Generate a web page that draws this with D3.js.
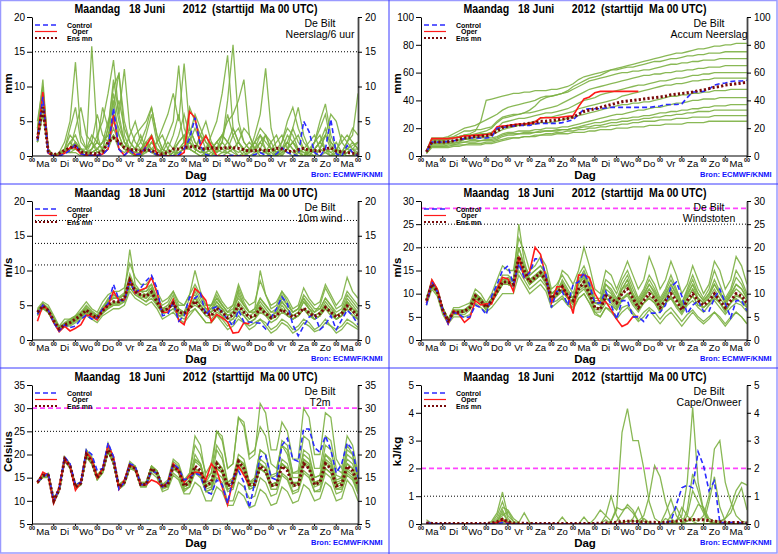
<!DOCTYPE html>
<html>
<head>
<meta charset="utf-8">
<script src="https://cdn.jsdelivr.net/npm/d3@7"></script>
<style>
body { margin: 0; background: #fff; }
svg text { font-family: "Liberation Sans", Arial, sans-serif; }
</style>
</head>
<body>
<div id="chart"></div>
<script>
// time axis: 6-hourly steps from +6h to +360h, 15 days
const stepHours = 6;
const dayLabels = ["Ma","Di","Wo","Do","Vr","Za","Zo","Ma","Di","Wo","Do","Vr","Za","Zo","Ma"];
const titleText = "Maandag   18 Juni      2012  (starttijd  Ma 00 UTC)";
const stationName = "De Bilt";

// ---------- Neerslag/6 uur (mm) ----------
const precipTicks = [0, 5, 10, 15, 20];
const precipControl = [2.2,8.5,0.3,0,0,0.3,0.8,1.7,0.3,0.1,0.1,0.1,0.2,1,6.9,1,0.1,0.8,0.2,0.3,1.3,0.5,0.2,0,0,0,0.2,1,2.5,5.5,1.5,0.2,0,0,0,0,0.1,0,0,0,0.2,0.5,0.1,0,0.3,1.2,0.5,0.2,0,5,3.5,0.5,0,1,5.3,0.3,0,1.5,0.5,0];
const precipOper = [2.3,9.2,0.4,0,0.1,0.4,1.2,1.2,0.3,0.1,0.1,0.1,0.3,1,5.9,1,0.1,0.9,0.2,0.3,1.5,2.8,0.2,0,0,0,0,0.5,6.4,5.5,1.5,2.9,1.5,0,0,0,0,0,0,0];
const precipMean = [2.5,7,0.5,0.2,0.4,0.8,1.2,1.4,0.6,0.4,0.4,0.3,0.6,2,2.6,2,1.2,0.9,0.9,0.7,0.9,0.8,0.4,0.3,0.5,1,1,1.2,1.3,1.4,1.1,1,1.2,1.1,1.1,1.2,1.2,1.1,0.9,0.7,0.8,0.9,0.8,0.8,1.1,1,0.7,0.6,0.9,1.1,0.8,0.8,0.7,1,1.2,0.7,0.6,0.5,0.4,0.3];
const precipMembers = [
  [3,9,0.5,0,0.2,1,4,7,2,1,15.8,3,0.5,2,5,3,1,0.5,0.2,0,1,3,1,0,0,0.5,2,3,1,0.5,0,0.5,1,2,1,0.5,0,0,0.5,1,2,3,1,0,0,0.5,1,2,0.5,0,0,1,2,1,0,0,0.5,1,0.5,0],
  [2,10,1,0,0.5,2,5,13.5,3,1,2,0.5,1,4,8,3,1,0.5,0,0.5,2,1,0,0,1,3,6,2,1,0.5,3,5,2,0.5,1,2,4,2,0.5,0,0,1,3,2,0.5,0,1,4,7,3,1,0.5,0,0.5,1,2,0.5,0,0,0.5],
  [3,8,0.5,0,0,1,2,1,0.5,0,1,3,5,9,13.8,6,12.5,4,2,1,0.5,2,1,0.5,0,0,1,2,4,2,1,0,0,1,2,6,3,1,0,0,0.5,1,0.5,0,0,1,2,1,0,0,0.5,2,5,7.5,3,1,0.5,0,0,0.5],
  [4,11,0.5,0.2,0,0.5,1,2,0.5,0.5,1,2,7,4,10,11.8,5,2,1,3,1,0.5,2,4,6,9,5,13.3,4,2,1,0.5,0,1,3,2,1,0,0,0.5,1,3,2,1,0,0.5,2,4,2,1,0,0,1,0.5,0,0.5,3,2,1,0],
  [2,7,1,0,0,0.5,1,1.5,1,0.5,0.5,1,2,3,6,4,2,1,1,2,4,7,3,1,0.5,0,0.5,1,2,4,2,3,1,0.5,2,8,16,5,2,1,0.5,2,3,1,0.5,0.2,1,2,1,0,0.5,1,2,1,0.5,1,0.5,2,3,9],
  [3,9,0.5,0,0.2,0.5,2,3,1,0.5,1,2,1,2,4,2,1,3,5,2,1,0.5,0,0.5,2,1,3,6,3,1,0.5,1,3,5,9,14.5,4,2,1,0.5,3,6,12.6,4,1,0.5,1,2,3,1,0.5,0,1,3,2,1,0,0.5,1,0.5],
  [2,8,0.5,0,0,0.5,0.5,1,0.5,0,0.5,1,2,5,7,12,3,1,0.5,1,2,1,0.5,1,3,5,13,4,2,1,0.5,0.5,1,2,3,5,6,8,11,3,1,0.5,0.5,1,2,3,1,0.5,0,0,1,2,4,6,2,1,0.5,1,2,1],
  [5,10,1,0,0,1,3,2,1,0.5,2,6,3,2,9,5,2,1,0.5,0.5,3,6,2,0.5,0,0,1,2,7,5,3,1,0.5,0,0.5,1,3,4,2,1,1,2,1,0.5,0,2,5,7,4,2,1,0.5,1,3,6,5,2,1,1.5,2],
  [2,6,0.5,0,0.5,1,0.5,0.5,0,0,0.5,1,2,3,5,8,4,2,1,1,2,3,1,0,0,0.5,1,1.5,2,1,0.5,1,2,1,0.5,0.5,1,2,4,3,1,0,0,0.5,1,2,4,3,1,0.5,0.5,2,3,1,0.5,0,0.5,2,4,3],
  [3,7,0.5,0.2,0,0.5,1,4,7,3,2,1,0.5,1,3,2,1,0.5,0,0,0.5,1,2,3,1,0.5,0.5,1,3,6,4,2,1,0,0,0.5,1,2,1,0.5,2,4,3,1,0.5,1,3,2,1,0.5,0,1,2,3,1,0.5,0,0.5,1,2],
  [2,9,0.5,0,0,0.5,1,1,0.5,0,0,0.5,1,4,11,6,2,0.5,0,0,1,2,1,0.5,0,0,0.5,1,1,0.5,0,0,0.5,1,2,1,0.5,0,0,1,2,1,0.5,0,0.5,1,2,1,0.5,0,0.5,1,2,4,1.5,0.5,0,0.5,1,1],
  [4,8,0.5,0,0.3,1,1,2,1,1,3,2,1,2,3,1,0.5,1,3,4,5,7,3,1,0.5,1,2,3,2,1,3,2,1,2,3,2,1,0.5,1,2,1,0.5,0.5,2,3,1,0.5,0,0.5,1,2,3,1,0.5,0,1,2,3,2,1]
];

// ---------- Accum Neerslag (mm) ----------
const accumTicks = [0, 20, 40, 60, 80, 100];
const accumControl = [3,10,10,10,10.5,11,11.5,12.5,13,13,13,13,13.5,20,20.5,21,21.5,22,22,22,23,23.5,23.5,23.5,23.5,24,25,26,30,33.5,34,34,34,34.5,35,35,35,35,35,35,35,35,35.5,36,37,37,37,37.5,42,46,46,46.5,48,51,52,52.5,53.5,54,54,54.5];
const accumOper = [3,12.5,12.5,12.5,12.5,13,13.5,14.5,14.5,15,15,15.5,16,21,21.5,22,22.5,23,23,23.3,24.5,27.5,27.5,27.5,27.5,28,28.5,29,35.5,41,42.5,45.5,46.5,46.5,46.5,46.5,46.5,46.5,46.5,46.5];
const accumMean = [3,10,10,10,10.3,11,12,13,13.5,14,14.3,14.5,15.5,18,20.5,21.5,22,22.5,23,23.5,24,25,25,25.5,26,26.5,27,28,30,32,33,34,35,36,37,38,39,39.5,40,40.5,41,41.5,42,42.5,43,44,44.5,45,45.5,46,47,47.5,48.5,49.5,50,51,51.5,52,52.5,53];
const accumMembers = [
  [4,13,13,13,14,16,18,20,21,22,24,26,28,30,33,35,36,37,38,39,40,42,43,43,44,45,47,50,52,54,56,57,58,60,62,63,64,65,66,67,68,69,70,71,72,73,74,74,75,76,77,77,78,79,79,80,80,81,81,81],
  [3,11,11,11,12,13,14,15,16,18,25,40,41,42,43,44,45,45,46,46,47,47,47,48,48,49,50,52,55,57,58,59,60,61,62,62,63,64,64,65,66,67,68,68,69,70,70,71,72,72,73,73,74,74,74,75,75,75,75,75],
  [3,10,10,11,12,13,14,15,15,16,17,18,20,24,27,28,29,30,31,33,36,40,42,43,44,45,46,48,50,52,54,55,56,57,58,59,60,60,61,61,62,62,63,64,65,66,66,67,67,68,68,69,69,69,70,70,70,70,70,70],
  [4,12,12,12,13,14,16,18,18,19,19,20,21,25,28,29,30,30,31,31,32,33,34,35,36,38,40,42,44,46,48,49,50,51,52,53,54,55,56,57,58,58,59,59,60,60,61,61,62,62,63,63,64,64,64,65,65,65,65,65],
  [3,9,9,9,10,11,12,13,13,14,15,16,17,20,24,25,26,27,27,28,29,30,31,31,32,33,34,36,38,40,41,42,44,45,46,47,48,49,50,51,51,52,53,54,54,55,56,56,57,58,58,59,59,60,60,60,60,60,60,60],
  [2,8,8,8,9,9,10,12,13,13,14,14,15,17,19,20,21,22,23,24,25,27,28,28,29,30,31,32,34,35,36,37,38,39,40,41,43,44,45,46,47,48,49,50,51,51,52,52,53,54,54,55,55,56,56,56,56,56,56,56],
  [4,12,12,12,12,13,14,15,15,15,16,16,17,19,21,21,22,22,22,23,23,24,24,24,25,26,27,28,29,30,31,32,33,34,35,36,37,37,38,38,39,39,40,41,42,43,43,44,44,45,45,46,46,47,47,47,48,48,48,48],
  [3,10,10,10,10,11,11,12,12,12,13,13,13,14,16,17,17,18,18,18,19,19,20,20,20,21,21,22,23,24,25,26,27,28,29,30,30,31,32,33,33,34,35,35,36,37,38,38,39,40,40,41,41,41,42,42,42,42,42,42],
  [2,7,7,7,8,8,9,10,10,10,11,11,11,12,14,15,15,16,16,16,17,17,18,18,18,19,19,20,21,22,23,24,24,25,26,26,27,27,28,28,29,29,30,31,31,32,32,33,33,34,34,35,35,36,36,36,37,37,37,37],
  [3,9,9,9,9,10,10,10,11,11,11,12,12,13,15,16,16,16,17,17,17,18,18,18,19,19,19,20,20,21,21,22,22,23,24,24,25,25,26,26,27,27,28,28,29,29,30,30,31,31,32,32,32,33,33,33,33,33,33,33],
  [2,6,6,6,6,7,7,8,8,8,8,9,9,10,11,12,13,13,14,14,15,15,16,16,17,17,18,18,19,19,20,20,21,21,22,22,23,23,24,24,25,25,25,26,26,26,27,27,27,28,28,28,28,29,29,29,29,29,29,29],
  [2,7,7,7,7,8,8,8,9,9,9,10,10,11,12,13,13,13,14,14,14,15,15,15,16,16,16,17,17,17,18,18,19,19,19,20,20,20,21,21,21,22,22,22,23,23,23,23,24,24,24,24,25,25,25,25,25,25,25,25]
];

// ---------- 10m wind (m/s) ----------
const windTicks = [0, 5, 10, 15, 20];
const windControl = [3.7,5,4.3,2.5,1.3,2.2,1.8,2,3,3.6,3,3.2,4.5,5.2,8,5.8,5.6,8.5,6.7,7.5,8.5,9.3,7.5,3.5,3.7,5.4,2.7,3.5,6.2,6,6.7,3.6,4.5,4.8,4,3,2,4.3,2.6,2.6,2.5,2.4,1.6,3.2,4.5,6.2,5.2,2.2,0.6,2,3.3,3.8,1.5,2.2,3.5,1.5,2.9,4.3,3.5,2.2];
const windOper = [2.7,5,4.3,2.5,1.2,2,1.3,1.7,2.2,3.6,3.4,2.9,4.4,5,7,5.7,5.8,8.8,6.7,7.2,7.5,9,6.8,4,4,5.8,2.8,2.2,5,7.4,6.7,5.7,2.6,3.7,3.2,2.6,1,1.1,2.5,2.3];
const windMean = [4,4.9,4.2,2.8,1.6,2.2,2.5,3,3.6,4.3,3.6,3.2,4.2,5,5.5,5.5,6,8.6,7,6.5,6.3,6.9,5.5,4.2,4.5,5.3,4,3.8,4.5,5.6,4.7,3.8,3.5,4.6,4,3.2,3.6,5,4,3.3,3.5,4.5,3.8,3.2,3.5,4.4,3.8,3.3,3.7,4.6,3.9,3.4,3.8,4.7,4,3.3,3.8,4.9,4.2,3.5];
const windMembers = [
  [4.5,5.5,5,3.5,2,3,3,3.5,4.5,5.5,4.5,4,5.5,6.5,7,7,7.5,11,9,8,8,9,7,5.5,6,7,5,5,6.5,8,6.5,5,5,7,5.5,4.5,5,8,6,5,5.5,8.5,6.5,5,5.5,7,6,4.5,5,7.5,6,5,5.5,8,6.5,5,6,9,7,6],
  [3.5,4.5,4,2.5,1.2,2,2,2.5,3,3.5,3,2.5,3.5,4,4.5,4.5,5,7,6,5.5,5,5.5,4.5,3,3.5,4,3,2.5,3.5,4.5,3.5,2.5,2.5,3.5,3,2,2.5,3.5,2.5,2,2.5,3,2.5,1.5,2,3,2.5,1.5,2,3,2.5,1.5,2,3,2,1.5,2,3,2.5,1.8],
  [4,5,4,3,1.8,2.5,3,3.5,4,4.5,4,3.5,4.5,6,6.5,6,6.5,9,7.5,7,7.5,8,6,4.5,5,6.5,4.5,4,5,6,5,4,4,5.5,4.5,3.5,4,6.5,5,4,4,5.5,4.5,3.5,4,6,5,4,4.5,6,4.5,3.5,4,5,4,3,3.5,5,4,3],
  [3.8,4.8,4.3,2.7,1.4,2,2.3,2.8,3.4,4,3.5,3,4,4.8,5.2,5.5,6,8,7,6.5,6,7,5.5,4,4.5,5.5,4,3.5,5,7.5,6,4.5,4,5,4,3,3,4,3.5,2.5,3,4.5,4,3,3.5,5,4,3,3.5,4.5,4,3,3.5,5,4,3,3.5,5.5,4.5,3.5],
  [4.2,5.2,4.5,3,1.7,2.3,2.6,3.2,4,4.6,3.8,3.5,4.5,5.5,6,6,6.5,9.5,7.5,6.5,6.5,7.5,6,4.5,4.5,5.5,4,3.5,5,6,5,4,4,5,4.5,3.5,4,7.5,5.5,4,4.5,6,5,4,4,5.5,4.5,3.5,4,5.5,4.5,4,4.5,6,5,3.5,4,5.5,4.5,4],
  [3.6,4.6,4,2.6,1.5,2.1,2.4,3,3.5,4.2,3.5,3.1,4,4.5,5,5.2,5.5,7.5,6.5,6,5.5,6.5,5,3.8,4,4.5,3.5,3.5,4.5,5,4.5,4,4.5,6,5,4,4,5,4,3,3.5,4.5,3.5,3,3.5,4.5,3.5,3,3.5,4.5,3.5,3,3.5,4.5,3.5,3,3.5,4.5,3.5,3],
  [4.1,5,4.3,2.9,1.6,2.2,2.6,3.1,3.7,4.4,3.7,3.3,4.4,5.4,6.2,6,6.5,8.8,7.2,7,7,7.5,5.5,4,4.5,5,3.5,3.5,4.5,5.5,4.5,3.5,3,4,3.5,2.5,3,4.5,3.5,2.5,3,4,3.5,2.5,3,4,3.5,3,3.5,4.5,4,3,3.5,5,4,3.5,4,6,5,4],
  [4,5.2,4.5,3.2,1.9,2.4,2.7,3.3,4,5,4.2,3.6,4.8,5.8,6.5,6.2,6.8,13,8,7,6.5,7,6,5,5.5,7,5.5,5,6.5,10,7,5,5,6.5,5,4,4.5,6,5,4,4.5,10,6.5,4.5,5,7,5.5,4,4.5,6,5,4,5,7.5,6,4.5,5,7,6,5],
  [3.9,4.7,4,2.6,1.3,1.9,2.2,2.7,3.2,3.8,3.3,2.9,3.8,4.5,5,5,5.5,7.5,6.5,6,5.5,6,5,3.8,4,4.5,3.5,3,4,4.5,3.5,2.5,2.5,3.5,2.5,1.5,2,3,2.5,1.5,2,3,2,1,1.5,2.5,2,1,1.5,2.5,2,1.2,1.5,2.5,2,1,1.5,2.5,2,1.5],
  [4.3,5.3,4.6,3.1,1.8,2.4,2.8,3.4,3.8,4.8,4,3.4,4.6,5.6,6,6,6.5,9,7.5,7,7,8,6,4.5,5,5.5,4,4,6,6.5,5,4,5,6,5,4,5,7,5,4,4,6,5,4,4.5,6.5,5,4,4.5,6.5,5.5,4.5,4.5,6,5,4,4.5,6.5,5.5,4.5],
  [3.7,4.6,3.9,2.5,1.4,2,2.3,2.8,3.3,4,3.4,3,3.9,4.7,5.3,5.3,5.8,8.2,6.8,6.2,6,6.8,5.2,4,4.5,5,3.8,3.8,5,5.5,4.5,3.5,3.5,4.5,3.5,3,3.5,5,4,3,3.5,5,4,3,3.5,4.5,3.5,3,3.5,4.5,3.5,3,3.5,4.5,4,3,3.5,4.5,3.5,3],
  [4,4.9,4.2,2.8,1.6,2.2,2.5,3,3.6,4.3,3.6,3.2,4.2,5,5.5,5.5,6,8.6,7,6.5,6.3,6.9,5.5,4.2,4.5,6,4.5,4,5,7,5.5,4.5,4.5,5.5,4.5,3.5,4,5.5,4.5,3.5,4,5,4,3.5,4,5.5,4.5,3.5,4,5.5,4.5,3.5,4,5.5,4.5,3.5,4,5.5,4.5,3.5]
];

// ---------- Windstoten (m/s) ----------
const gustTicks = [0, 5, 10, 15, 20, 25, 30];
const gustControl = [7.5,12.5,10.5,6.5,3.5,6,5.5,4.8,5,7.5,7,5.5,9.5,12,15,16,12,16.5,13.5,14.5,17.5,17.5,14,7,10.5,10.5,7.5,12,12.5,14.5,12,8,8,10.5,7.5,4.5,8.5,8.5,5,5,4,5.8,5.8,6,7.5,11.5,12.5,9.5,5.7,7.5,8.5,6.2,6.2,9,11,8,4.8,8.5,8.5,6.3];
const gustOper = [8,13,11,6.5,3.5,6.3,5.5,3.8,4.8,8.5,7.6,7.8,7.8,11,13.5,13.2,10.5,18,13.5,14.8,20,18.5,13.5,8,11.5,11.5,9.5,5.7,14,14,13.5,10,8,8.3,6.5,4.5,2.9,3.5,5,5.1];
const gustMean = [8.5,12,10.5,6.5,4.2,6,6,6.2,7,9.5,8.5,7,8.5,10.5,12.5,12.5,12,18,15,12.5,13.5,14.5,13,9,10,11.5,9.5,8.5,11,12.5,10,7,6.6,9.5,9,8,10,11,9,7,8.5,10,9,7,8.5,10,8.5,6.5,8.5,10,8.5,7.5,8.5,10,8.5,7,8.5,10,9.5,8];
const gustMembers = [
  [9,13,11,7,4.5,7,7,7.5,8,11,10,8,10,13,16,15,15,22,19,15,16,18,16,11,12,14,12,10,14,16,13,9,9,13,12,10,13,15,12,9,11,14,12,9,11,14,11,8,11,14,11,9,11,15,12,9,11,15,13,10],
  [7.5,11,9.5,5.5,3.5,5,5,5,5.5,8,7,6,7,8.5,10,10,10,14,12,10,11,12,10.5,7,8,9,7.5,6.5,9,10,8,5.5,5,7,6.5,5,7,7.5,6,4.5,6,7,6,4.5,6,7,5.5,4,5.5,6.5,5,4,5,6,5,3.5,5,6,5,3.5],
  [8.5,12.5,11,6.5,4,6.5,6,6,7,9.5,8.5,7,8.5,11,13,13,12.5,25,17,13,14,15,13.5,9,10,11,9,8.5,11,13,10,7,7,10,9,7.5,10,12,9,7,9,11,9,7,9,11,9,6.5,9,11,8.5,7,8,10,8,6,8,10,9,7],
  [8,12,10,6.5,4,6,6,6,7,10,9,7.5,9,11,13,13,13,18,16,14,15,16,14,10,11,12,10,9,12,14,11,8,8,11,10,8,11,13,10,8,10,12,10,8,10,12,9.5,7.5,10,12,9,8,9.5,12,10,8,10,12,11,9],
  [9,12.5,10.5,7,4.5,6.5,6.5,6.5,7.5,10,9,7.5,8.5,10,12,12,11.5,17,14,12,13,14,12,8.5,9.5,11,9,8,11,12,9.5,7,7,9,8,6.5,8.5,10,8,6.5,8,9,8,6,8,9,7.5,6,8,9.5,7.5,7,8,9,8,6.5,8,9,8,7],
  [8.2,11.5,10,6.2,3.8,5.5,5.5,5.5,6.5,9,8,6.5,8,10,12,12,11.5,16,14,12,13,14,12.5,8.5,9.5,10.5,9,7.5,10,11,9,6,6,8,7.5,6.5,9,9.5,7.5,6,8,9,8,6,8,9,7,5.5,7.5,8.5,7,6,7.5,8.5,7,5.5,7,8,7.5,6],
  [8.8,12.2,10.8,6.8,4.4,6.2,6.2,6.4,7.2,9.8,8.8,7.2,8.8,11,13,13.5,13,20,16,13,14,15,14,10,10.5,12,10,9,12,13.5,11,8,7.5,10,9.5,8,11,12,9.5,7.5,9.5,11,9.5,7.5,9,11,9,7,9,11,9,8,9,11,9,7.5,9.5,11,10,8.5],
  [8.5,12,10.5,6.5,4.2,6,6,6.2,7,9.5,8.5,7,8.5,10.5,12.5,12.5,12,18,15,12.5,13.5,14.5,13,9,11,15,14,12,15,20,16,11,10,15,14,11,14,17,14,11,13,18,15,11,13,17,14,10,12,16,13,10,12,17,15,11,13,18,16,12],
  [8,11.5,10,6,4,5.8,5.8,6,6.8,9,8,6.5,8,10,12,12,11.5,15,13,11,12,13,11.5,8,8.5,9.5,8,7,9,10,8,6,5,7,6,4.5,6,7,5.5,4,5,6.5,5,3.5,5,6,4.5,3,4.5,6,4.5,3.5,4.5,6,4.5,3,4.5,6,5,3.5],
  [8.6,12.2,10.6,6.6,4.3,6.1,6.1,6.3,7.1,9.6,8.6,7.1,8.6,10.6,12.6,12.6,12.1,18,15,12.6,13.6,14.6,13.1,9.1,10,13,11,9,13,15,12,8,8,12,11,9,11,13,10,8,9.5,12,10.5,8,9.5,12,10,7.5,9.5,12,10,8.5,10,12,10,8,9.5,12,11,9],
  [8.4,11.8,10.4,6.4,4.1,5.9,5.9,6.1,6.9,9.4,8.4,6.9,8.4,10.4,12.4,12.4,11.9,17,14.5,12,13,14,12.5,8.5,9.5,10.5,9,8,10.5,11.5,9.5,6.5,6.5,9,8.5,7,9,10,8.5,6.5,8,9.5,8.5,6.5,8,9.5,7.5,6,8,9.5,7.5,7,8,9.5,8,6.5,8,9.5,9,7.5],
  [8.7,12.4,10.9,6.9,4.4,6.4,6.4,6.6,7.4,10,9,7.4,9,11.5,14,14,13,20,16,14,15,16,14.5,10,11,12.5,10.5,9,12.5,14.5,11.5,8.5,8.5,12,10.5,8.5,12,14,11,8.5,10.5,13,11,8.5,10.5,13,10.5,8,10.5,13,10,8.5,10,13,10.5,8.5,10.5,13.5,12,9.5]
];

// ---------- T2m (Celsius) ----------
const tempTicks = [5, 10, 15, 20, 25, 30, 35];
const tempControl = [14.2,15,16,10,12.5,19.5,18,13.5,14,21,20,16.5,17,22.5,19.5,12.5,14,18,17.5,13.5,13.5,16.5,16,13,14,18,17,14.5,15,16,15.5,12,11.5,14.5,13.5,9.5,15,16.5,14,8.5,14,19.5,19.8,15,14.5,22,23.5,19,18.5,25.5,25.5,21.5,20.5,24,21,16,18,22.5,21,15];
const tempOper = [13.8,16.2,15.5,9.5,13,19,17.5,12.3,14,20.5,19,15,17,22,19.5,12.5,14.5,18,17,13.5,13.5,14.5,14,13,14,18,16.5,14,15.5,16.2,16,14.5,18,16.5,13,9.2,14.5,17.5,15.5,13.5];
const tempMean = [14,15.5,15.5,10,12.5,19,17.5,13,13.8,20,18.5,15,16.5,21,18.5,13,14,17.5,17,13.5,13.5,17,16,13,13.5,17.5,16.5,13.2,14,17.5,16.5,13.2,14,18,16.5,13.2,14,18.5,17,13.5,13.5,17.5,16.5,13.3,13.5,17.5,16.5,13.3,13.5,18,17,13.5,14,18,17,13.2,13.5,17.5,16.5,13.5];
const tempMembers = [
  [14.2,15.5,16,10.5,12.5,19.5,18,13.5,14,21,19.5,15.5,17,22.5,19.5,13.5,14.5,18.5,17.5,14,14,17.5,16.5,13.5,14.5,19,18,14.5,16,22,20,16,18,25,23,17,18,28,26,19,20,31,29,21,21,27,25,19,19,30,28,20,20,29,28,19,17,24,22,16],
  [13.8,15,15,9.5,12,18.5,17,12.5,13.5,19.5,18,14.5,16,20.5,18,12.5,13.5,17,16.5,13,13,16,15,12,12.5,15.5,14.5,11.5,11.5,14,13,10,10,13,12,9,9,12,11,8.5,9,12.5,11.5,9,9.5,13,12,9.5,10,13.5,12.5,10,10.5,14,13,10,10.5,14.5,13,10],
  [14,15.5,15.5,10,12.5,19,17.5,13,14,20,18.5,15,16.5,21,18.5,13,14,17.5,17,13.5,13.5,17,16,13,13.5,18,17,14,16,24,22,15,16,22,20,14,15,20,19,14,14.5,19,18,13.5,14,18,17,13,13.5,19,18,14,14.5,20,18.5,14,14.5,22,20,15],
  [14.1,15.7,15.8,10.2,12.7,19.3,17.7,13.2,14,20.5,19,15.2,16.8,21.5,18.7,13.2,14.2,18,17.2,13.7,13.7,17.5,16.3,13.2,13.7,17,16,12.5,13,16,15,12,12.5,16,15,12,12.5,17,16,12.5,13,17,16,13,13.5,18,17,13.5,14,19,18,14,14.5,19,18,13.5,14,18,17,13.5],
  [13.9,15.3,15.3,9.8,12.3,18.8,17.3,12.8,13.6,19.7,18.2,14.8,16.2,20.7,18.3,12.8,13.8,17.3,16.8,13.3,13.3,16.8,15.8,12.8,13.3,17.5,16.5,13,14,19,18,13,14,21,19,14,14.5,19,18,13,13.5,17,16,12.5,12.5,16,15,12,12.5,16.5,15.5,12,12.5,17,16,12.5,13,16.5,15.5,12.5],
  [14.3,15.8,15.7,10.3,12.8,19.5,17.8,13.3,14.2,21,19.2,15.5,17,22,19,13.5,14.3,18,17.5,14,14,17.5,16.5,13.5,14,18.5,17.5,14,15,20,18,14,14.5,18.5,17,13.5,14,19,17.5,13.5,14.5,21,20,15,15.5,22,20,15,15,21,20,15,15.5,22,21,15.5,15,19,18,14],
  [13.7,15.2,15.2,9.7,12.2,18.7,17.2,12.7,13.4,19.4,18,14.5,16,20.5,18,12.5,13.5,17,16.5,13,13,16.5,15.5,12.5,13,17,16,12.5,13,16.5,15.5,12.5,13,17,16,12.5,13,17.5,16,12.5,13,18,17,13.5,14,19,18,14,14,18,17,13,13.5,17,16,12.5,12.5,15.5,14.5,11.5],
  [14,15.6,15.6,10.1,12.6,19.1,17.6,13.1,13.9,20.1,18.6,15.1,16.6,21.1,18.6,13.1,14.1,17.6,17.1,13.6,13.6,17.1,16.1,13.1,13.6,17.6,16.6,13.3,14.5,19,18,14,16,25,24,17,18,28,27,20,21,26,24,18,17,22,21,16,16,20,19,15,15.5,20,19,14.5,15,20,19,15],
  [14.1,15.4,15.4,9.9,12.4,18.9,17.4,12.9,13.7,19.9,18.4,14.9,16.4,20.9,18.4,12.9,13.9,17.4,16.9,13.4,13.4,16.9,15.9,12.9,13.4,17.4,16.4,13.1,13.5,17,16,12,11.5,15,14,10,10,14,13,10.5,11,15,14,11,11.5,15.5,14.5,11.5,12,16,15,12,12,16,15,11.5,12,16,15,12],
  [14.2,15.6,15.6,10.1,12.6,19,17.6,13.1,13.9,20,18.5,15,16.6,21,18.6,13.1,14,17.6,17.1,13.6,13.6,17.5,16.4,13.4,14,18,17,13.5,14.5,18.5,17.5,13.5,14,18.5,17,13.5,14,18,16.5,13,13.5,17,16,13,13.5,18,17,13.5,14,18.5,17.5,13.5,14,18.5,17.5,13.5,14,18,17,13.5],
  [13.9,15.5,15.5,10,12.5,19,17.5,13,13.8,20,18.5,15,16.5,21,18.5,13,14,17.5,17,13.5,13.5,17,16,13,13,16,15,12,13,17,16,12,12.5,17,16,12.5,13,19,18,14,15,21,20,15.5,16,23,22,16,16.5,24,23,17,17,24,23,17,16,21,20,15],
  [14,15.4,15.4,9.9,12.4,19,17.4,13,13.7,20,18.4,15,16.4,21,18.4,13,13.9,17.4,16.9,13.4,13.4,16.9,15.9,12.9,13.4,17,16,13,13.5,17,16,13,13.5,17.5,16.5,13,13.5,18,17,13.5,14,18,17,13.5,14,18,17,13.5,14,18,17,13.5,14,18,17,13,13.5,17,16,13]
];

// ---------- Cape/Onweer (kJ/kg) ----------
const capeTicks = [0, 1, 2, 3, 4, 5];
const capeControl = [0.05,0.02,0.01,0,0,0,0,0,0,0,0,0,0.01,0.02,0.05,0.02,0,0,0,0,0,0,0,0,0,0,0,0,0,0,0,0,0,0,0,0,0,0,0,0,0,0,0,0,0.05,0.1,0.7,1.3,1.4,1.3,2.6,2.1,1.2,1.55,0.05,0.05,0.05,0.08,0.03,0.02];
const capeOper = [0.03,0.01,0,0,0,0,0,0,0,0,0,0,0.02,0.05,0.15,0.04,0.01,0,0,0,0,0,0,0,0,0,0,0,0,0,0,0,0,0,0,0,0,0,0,0];
const capeMean = [0.04,0.02,0.02,0.02,0.02,0.02,0.02,0.02,0.02,0.02,0.02,0.02,0.03,0.08,0.17,0.08,0.03,0.03,0.03,0.02,0.02,0.02,0.02,0.02,0.02,0.02,0.02,0.02,0.02,0.02,0.02,0.02,0.03,0.04,0.05,0.06,0.09,0.1,0.1,0.09,0.07,0.06,0.06,0.05,0.06,0.08,0.1,0.12,0.15,0.16,0.15,0.15,0.12,0.1,0.08,0.06,0.05,0.05,0.05,0.04];
const capeMembers = [
  [0.02,0,0,0,0,0,0,0,0,0,0,0,0,0.05,0.1,0.05,0,0,0,0,0,0,0,0,0,0,0,0,0,0,0,0,0,0,0.1,0.5,3.3,4.15,3,3,2,0.8,0.2,0.05,0,0,0,0,0,0,0,0,0,0,0,0,0,0,0,0],
  [0.03,0,0,0,0,0,0,0,0,0,0,0,0,0.02,0.05,0.02,0,0,0,0,0,0,0,0,0,0,0,0,0,0,0,0,0,0,0,0,0,0,0,0,0,0,0,0,0,0.05,0.1,0.3,1.5,4.2,1.5,0.5,0.1,0.05,0,0,0,0,0,0],
  [0.05,0,0,0,0,0,0,0,0,0,0,0,0.02,0.1,0.2,0.05,0,0,0,0,0,0,0,0,0,0,0,0,0,0,0,0,0,0,0,0,0.05,0.1,0.1,0.1,0.3,1,2.1,1.7,0.8,0.2,0.05,0,0,0,0,0,0,0,0,0,0,0,0,0],
  [0.02,0,0,0,0,0,0,0,0,0,0,0,0,0.05,0.15,0.05,0,0,0,0,0,0,0,0,0,0,0,0,0,0,0,0,0,0,0,0,0,0,0,0,0,0,0,0,0,0,0,0,0.1,0.2,0.1,0.3,1,2.7,3,1.5,0.8,0.3,0.1,0.05],
  [0.04,0,0,0,0,0,0,0,0,0,0,0,0,0.03,0.1,0.03,0,0,0,0,0,0,0,0,0,0,0,0,0,0,0,0,0,0,0,0,0,0,0,0,0,0,0,0,0,0,0,0,0,0,0,0,0,0,0.05,0.2,0.6,1.2,1.5,1.4],
  [0.03,0,0,0,0,0,0,0,0,0,0,0,0.1,0.4,1.15,0.3,0.1,0,0,0,0,0,0,0,0,0,0,0,0,0,0,0,0,0,0,0,0,0,0,0,0,0,0,0,0,0,0,0,0,0,0,0,0,0,0,0,0,0,0,0],
  [0.02,0,0,0,0,0,0,0,0,0,0,0,0,0.2,0.6,0.5,0.2,0.05,0.4,0.05,0,0,0,0,0,0,0,0,0,0,0,0,0,0.3,1,0.3,0,0,0,0,0,0,0,0,0,0,0,0,0,0,0,0,0,0,0,0,0,0,0,0],
  [0.03,0,0,0,0,0,0,0,0,0,0,0,0,0.05,0.2,0.05,0,0,0,0,0,0,0,0,0,0,0,0,0,0,0,0.2,0.5,0.3,0.1,0.6,0.5,0.6,0.4,0.1,0,0,0,0,0,0,0,0,0.5,1.8,1.2,0.5,0.1,0,0,0,0,0,0,0],
  [0.02,0,0,0,0,0,0,0,0,0,0,0,0,0.1,0.4,0.1,0,0,0,0,0,0,0,0,0,0.25,0,0,0,0.25,0,0,0,0,0,0,0,0,0,0,0,0,0,0,0.4,0.9,0.3,0.05,0,0,0,0,0.8,1.7,0.6,0.1,0,0,0,0],
  [0.03,0,0,0,0,0,0,0,0,0,0,0,0,0.1,0.3,0.45,0.1,0,0,0,0,0,0,0,0,0,0,0,0,0,0,0,0,0,0,0.1,0.4,0.7,0.5,0.1,0,0,0,0,0,0,0.1,0.6,0.3,1.2,0.8,0.4,0.1,0,0,0,0,0,0,0],
  [0.15,0.02,0,0,0,0,0,0,0,0,0,0,0,0.1,0.5,0.1,0,0,0,0,0,0,0,0,0,0,0,0,0,0,0,0,0,0,0,0,0,0,0,0,0.2,0.05,0,0,0,0.3,0.6,0.2,0.1,0.3,0.7,0.6,0.2,0.1,0.1,0.2,0.4,0.9,1.3,0.5],
  [0.02,0,0,0,0,0,0,0,0,0,0,0,0.05,0.3,0.8,0.2,0,0,0,0,0,0,0,0,0,0,0,0,0,0,0,0,0,0.15,0,0,0,0,0.2,0.6,0.1,0,0,0,0.2,0.1,0,0,0.3,0.1,0,0,0,0,0,0,0,0,0,0]
];

// ---------- layout ----------
const W = 778, H = 554;
const panelW = 389, panelH = 184;
const plot = {left: 32, right: 358, top: 17, bottom: 156};
const green = "#7cb042";

const svg = d3.select("#chart").append("svg")
    .attr("width", W)
    .attr("height", H);

svg.append("rect").attr("width", W).attr("height", H).attr("fill", "#fff");

const x = d3.scaleLinear().domain([0, 360]).range([plot.left, plot.right]);
const hourOf = i => stepHours * (i + 1);
const tickFmt = d3.format("d");

function drawPanel(cfg, idx) {
  const g = svg.append("g").attr("transform", `translate(${cfg.dx},${cfg.dy})`);
  const y = d3.scaleLinear().domain(cfg.domain).range([plot.bottom, plot.top]);

  // clip to the plot area
  const clipId = "clip" + idx;
  g.append("clipPath").attr("id", clipId)
    .append("rect")
      .attr("x", plot.left).attr("y", plot.top - 1)
      .attr("width", plot.right - plot.left).attr("height", plot.bottom - plot.top + 1);

  // title
  g.append("text")
      .attr("x", 196).attr("y", 12.5)
      .attr("text-anchor", "middle")
      .attr("font-size", 12.5).attr("font-weight", "bold")
      .attr("textLength", 243).attr("lengthAdjust", "spacingAndGlyphs")
      .style("white-space", "pre")
      .text(titleText);

  const line = d3.line()
      .x((d, i) => x(hourOf(i)))
      .y(d => y(d));

  const body = g.append("g").attr("clip-path", `url(#${clipId})`);

  // reference lines
  cfg.refs.forEach(r => {
    body.append("line")
        .attr("x1", plot.left).attr("x2", plot.right)
        .attr("y1", y(r.v)).attr("y2", y(r.v))
        .attr("stroke", r.magenta ? "#ff44ff" : "#000")
        .attr("stroke-width", r.magenta ? 1.6 : 1)
        .attr("stroke-dasharray", r.magenta ? "5,3" : "1,2");
  });

  // ensemble members
  body.selectAll("path.member")
    .data(cfg.members)
    .join("path")
      .attr("class", "member")
      .attr("d", line)
      .attr("fill", "none")
      .attr("stroke", green)
      .attr("stroke-width", 1.3)
      .attr("opacity", 0.9);

  body.append("path").attr("d", line(cfg.oper))
      .attr("fill", "none").attr("stroke", "#ff1a1a").attr("stroke-width", 1.6);
  body.append("path").attr("d", line(cfg.control))
      .attr("fill", "none").attr("stroke", "#2a2aff").attr("stroke-width", 1.6)
      .attr("stroke-dasharray", "5,3");
  body.append("path").attr("d", line(cfg.mean))
      .attr("fill", "none").attr("stroke", "#7a0a0a").attr("stroke-width", 3)
      .attr("stroke-dasharray", "2.2,2.2");

  // left axis
  const yl = g.append("g")
      .attr("transform", `translate(${plot.left},0)`)
      .call(d3.axisLeft(y).tickValues(cfg.ticks).tickFormat(tickFmt)
        .tickSize(5).tickPadding(2).tickSizeOuter(0));
  yl.select(".domain").attr("stroke", "#000");
  yl.selectAll("text").attr("font-size", 10).attr("fill", "#000")
      .style("font-family", "Liberation Sans, Arial, sans-serif");

  // right axis
  const yr = g.append("g")
      .attr("transform", `translate(${plot.right},0)`)
      .call(d3.axisRight(y).tickValues(cfg.ticks).tickFormat(tickFmt)
        .tickSize(4).tickPadding(3).tickSizeOuter(0));
  yr.select(".domain").attr("stroke", "#444").attr("stroke-width", 1.8);
  yr.selectAll("text").attr("font-size", 10).attr("fill", "#000")
      .style("font-family", "Liberation Sans, Arial, sans-serif");

  // bottom axis with 00 marks at midnight and day names at noon
  g.append("line")
      .attr("x1", plot.left).attr("x2", plot.right)
      .attr("y1", plot.bottom).attr("y2", plot.bottom)
      .attr("stroke", "#000");
  const mids = d3.range(dayLabels.length + 1).map(d => d * 24);
  g.selectAll("line.midtick").data(mids).join("line")
      .attr("class", "midtick")
      .attr("x1", d => x(d)).attr("x2", d => x(d))
      .attr("y1", plot.bottom).attr("y2", plot.bottom + 2)
      .attr("stroke", "#000");
  g.selectAll("text.mid").data(mids).join("text")
      .attr("class", "mid")
      .attr("x", d => x(d)).attr("y", plot.bottom + 5.5)
      .attr("text-anchor", "middle")
      .attr("font-size", 5.5).attr("font-weight", "bold")
      .text("00");
  g.selectAll("text.day").data(dayLabels).join("text")
      .attr("class", "day")
      .attr("x", (d, i) => x(i * 24 + 12)).attr("y", plot.bottom + 10.5)
      .attr("text-anchor", "middle")
      .attr("font-size", 9.5)
      .text(d => d);

  // axis titles
  g.append("text")
      .attr("x", 196).attr("y", 178.5)
      .attr("text-anchor", "middle")
      .attr("font-size", 11.5).attr("font-weight", "bold")
      .text("Dag");
  g.append("text")
      .attr("transform", `translate(12,${(plot.top + plot.bottom) / 2 - 3}) rotate(-90)`)
      .attr("text-anchor", "middle")
      .attr("font-size", 11.5).attr("font-weight", "bold")
      .text(cfg.unit);
  g.append("text")
      .attr("x", 311).attr("y", 177)
      .attr("font-size", 7.5).attr("font-weight", "bold")
      .attr("fill", "#1010ff")
      .text("Bron: ECMWF/KNMI");

  // station and parameter
  g.append("text")
      .attr("x", 320).attr("y", 27)
      .attr("text-anchor", "middle").attr("font-size", 10.5)
      .text(stationName);
  g.append("text")
      .attr("x", 320).attr("y", 38)
      .attr("text-anchor", "middle").attr("font-size", 10.5)
      .text(cfg.param);

  // legend
  const legend = [
    {label: "Control", dx: 67, color: "#2a2aff", w: 1.6, dash: "5,3"},
    {label: "Oper", dx: 72, color: "#ff1a1a", w: 1.2, dash: null},
    {label: "Ens mn", dx: 67, color: "#7a0a0a", w: 2.2, dash: "2,2"}
  ];
  legend.forEach((l, i) => {
    const ly = 25 + i * 6.5;
    g.append("line")
        .attr("x1", 35).attr("x2", 57).attr("y1", ly).attr("y2", ly)
        .attr("stroke", l.color).attr("stroke-width", l.w)
        .attr("stroke-dasharray", l.dash);
    g.append("text")
        .attr("x", l.dx).attr("y", ly + 2.5)
        .attr("font-size", 7).attr("font-weight", "bold")
        .text(l.label);
  });
}

const panels = [
  {dx: 0, dy: 0, domain: [0, 20], ticks: precipTicks, unit: "mm", param: "Neerslag/6 uur",
   members: precipMembers, control: precipControl, oper: precipOper, mean: precipMean,
   refs: [{v: 15}]},
  {dx: panelW, dy: 0, domain: [0, 100], ticks: accumTicks, unit: "mm", param: "Accum Neerslag",
   members: accumMembers, control: accumControl, oper: accumOper, mean: accumMean,
   refs: []},
  {dx: 0, dy: panelH, domain: [0, 20], ticks: windTicks, unit: "m/s", param: "10m wind",
   members: windMembers, control: windControl, oper: windOper, mean: windMean,
   refs: [{v: 10.8}, {v: 13.9}, {v: 17.2}]},
  {dx: panelW, dy: panelH, domain: [0, 30], ticks: gustTicks, unit: "m/s", param: "Windstoten",
   members: gustMembers, control: gustControl, oper: gustOper, mean: gustMean,
   refs: [{v: 20}, {v: 25}, {v: 28.4, magenta: true}]},
  {dx: 0, dy: panelH * 2, domain: [5, 35], ticks: tempTicks, unit: "Celsius", param: "T2m",
   members: tempMembers, control: tempControl, oper: tempOper, mean: tempMean,
   refs: [{v: 25}, {v: 30, magenta: true}]},
  {dx: panelW, dy: panelH * 2, domain: [0, 5], ticks: capeTicks, unit: "kJ/kg", param: "Cape/Onweer",
   members: capeMembers, control: capeControl, oper: capeOper, mean: capeMean,
   refs: [{v: 1}, {v: 2, magenta: true}]}
];

panels.forEach(drawPanel);

// panel frames
svg.append("rect")
    .attr("x", 0.5).attr("y", 0.5).attr("width", W - 1.5).attr("height", H - 1.5)
    .attr("fill", "none").attr("stroke", "#9a9aff").attr("stroke-width", 1.5);
svg.append("line").attr("x1", panelW).attr("x2", panelW).attr("y1", 0).attr("y2", H)
    .attr("stroke", "#3a3aff");
[panelH, panelH * 2].forEach(yy => {
  svg.append("line").attr("x1", 0).attr("x2", W).attr("y1", yy).attr("y2", yy)
      .attr("stroke", "#3a3aff");
});
</script>
</body>
</html>
